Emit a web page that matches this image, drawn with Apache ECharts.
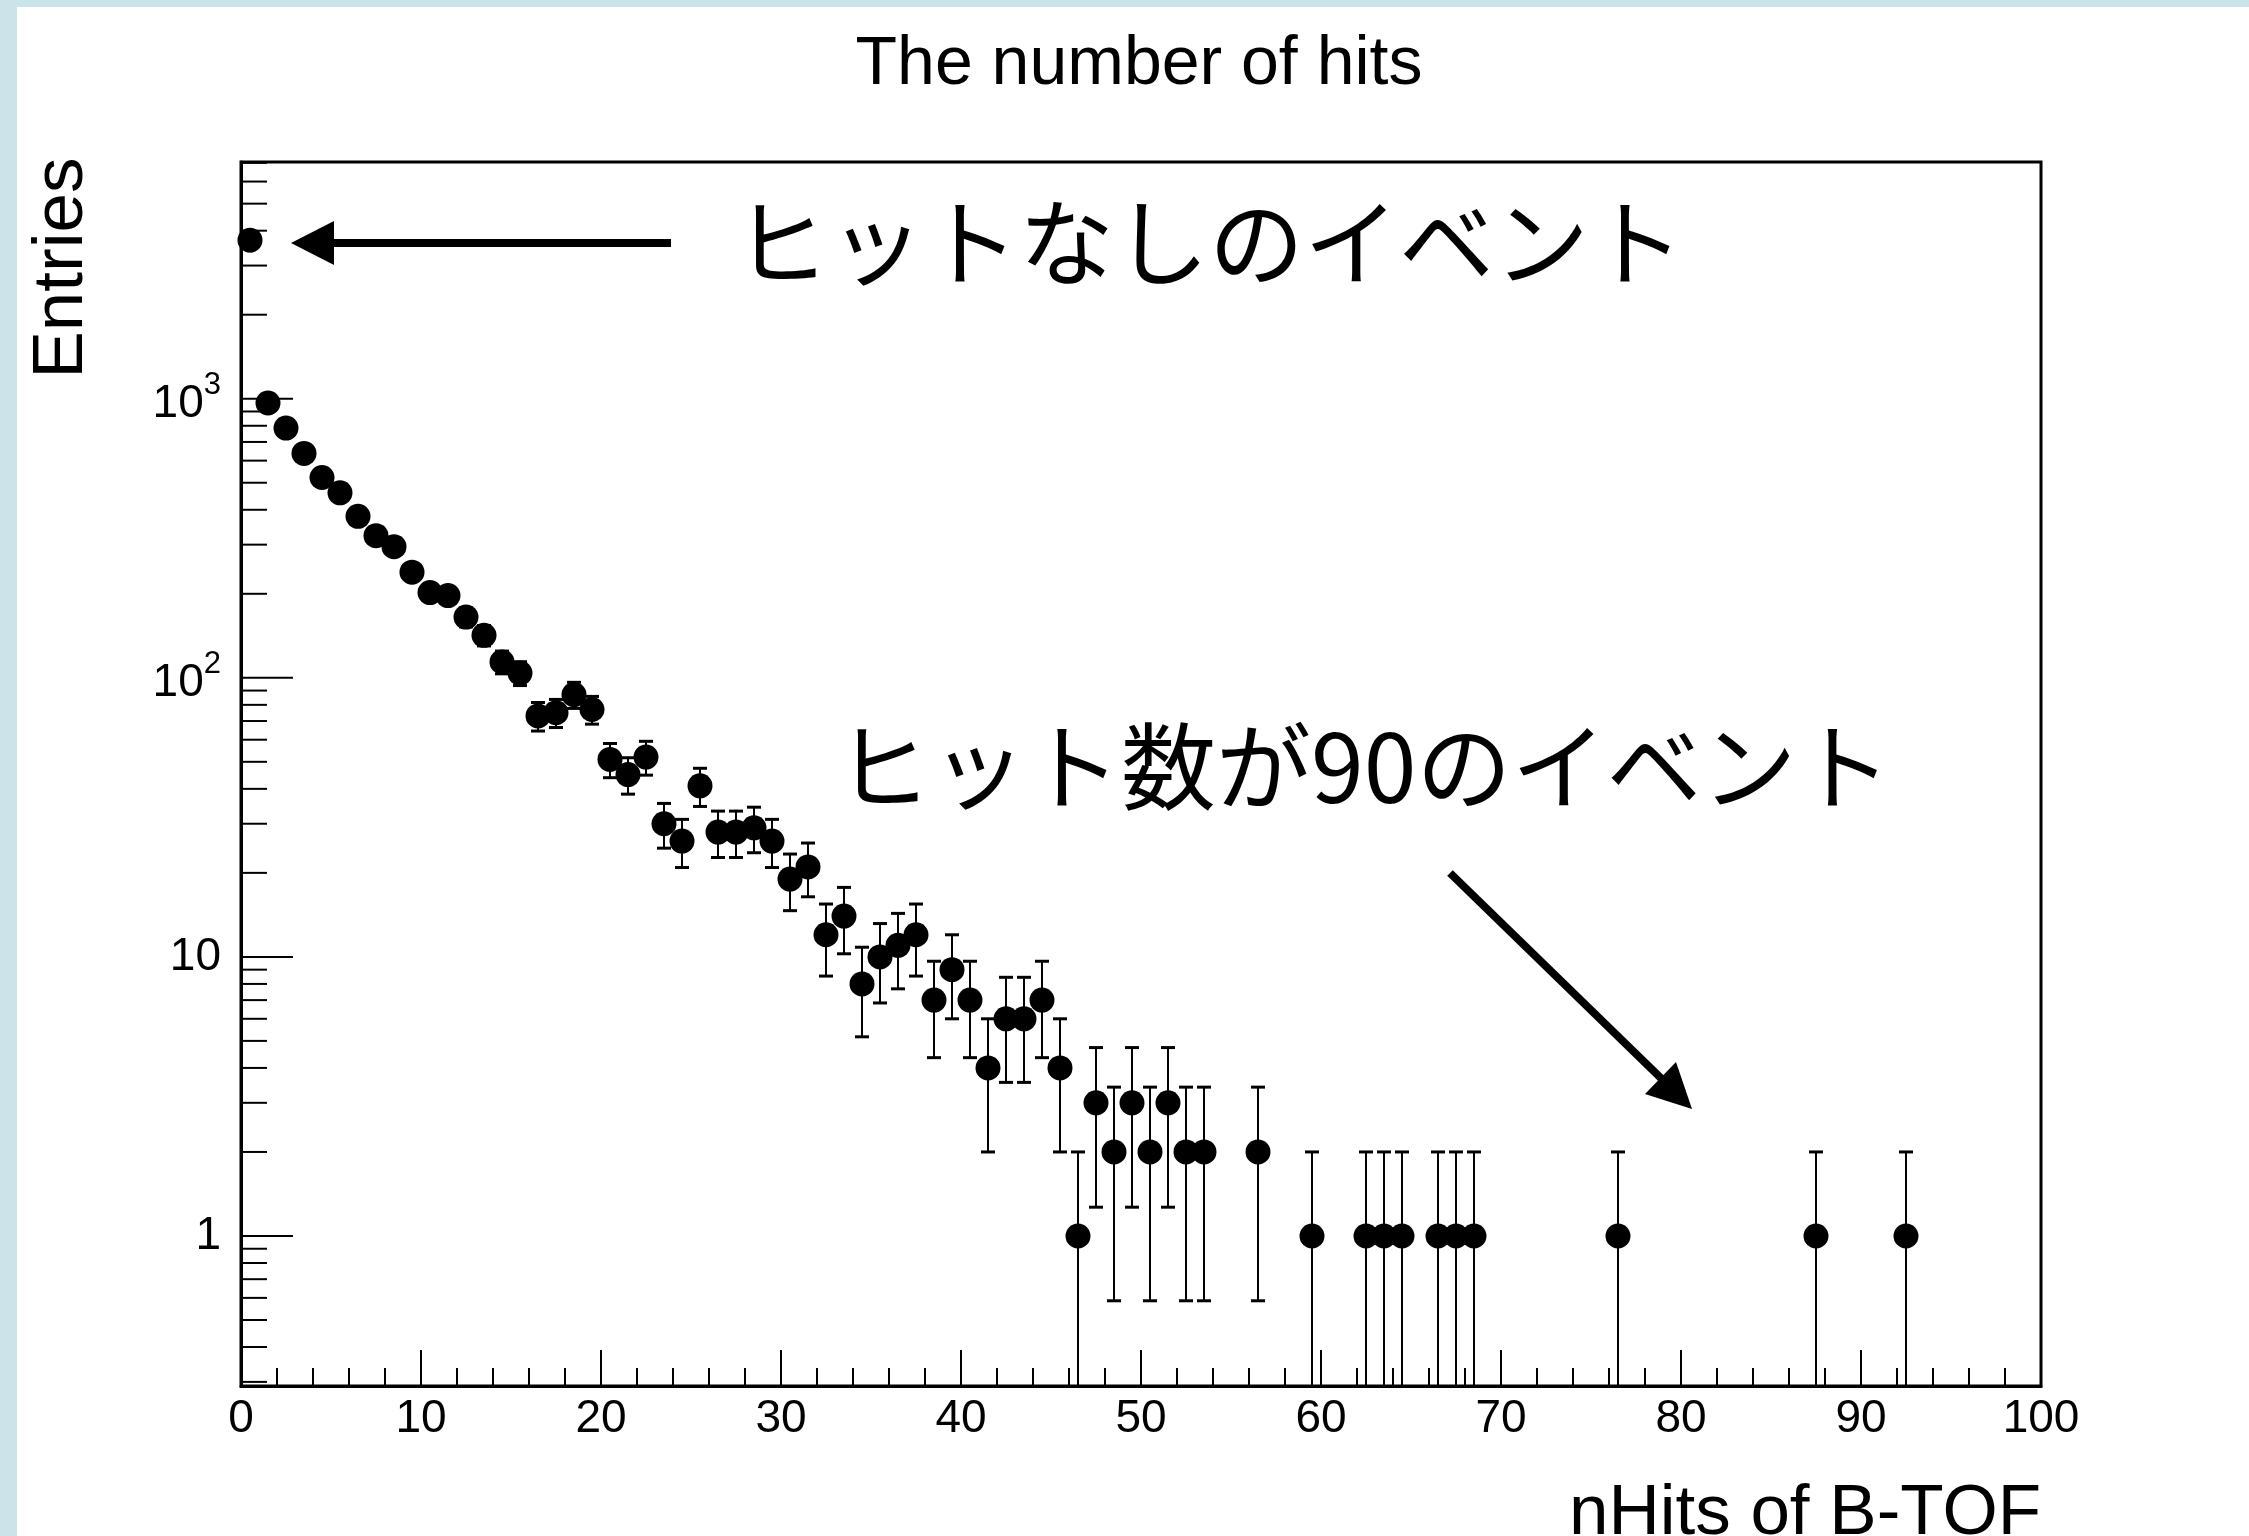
<!DOCTYPE html>
<html>
<head>
<meta charset="utf-8">
<title>The number of hits</title>
<script src="https://cdn.jsdelivr.net/npm/echarts@6/dist/echarts.min.js"></script>
<style>
  html, body { margin: 0; padding: 0; background: #ffffff; }
  #chart { width: 2249px; height: 1536px; }
</style>
</head>
<body>
<div id="chart"></div>
<script>
// Histogram of B-TOF hit multiplicity: bin centres (width 1) and entries per bin.
const binCenters = [
  0.5, 1.5, 2.5, 3.5, 4.5, 5.5, 6.5, 7.5, 8.5, 9.5,
  10.5, 11.5, 12.5, 13.5, 14.5, 15.5, 16.5, 17.5, 18.5, 19.5,
  20.5, 21.5, 22.5, 23.5, 24.5, 25.5, 26.5, 27.5, 28.5, 29.5,
  30.5, 31.5, 32.5, 33.5, 34.5, 35.5, 36.5, 37.5, 38.5, 39.5,
  40.5, 41.5, 42.5, 43.5, 44.5, 45.5, 46.5, 47.5, 48.5, 49.5,
  50.5, 51.5, 52.5, 53.5, 56.5, 59.5, 62.5, 63.5, 64.5, 66.5,
  67.5, 68.5, 76.5, 87.5, 92.5
];
const entries = [
  3700, 965, 785, 637, 522, 460, 379, 323, 295, 239,
  202, 197, 165, 142, 114, 104, 73, 75, 87, 77,
  51, 45, 52, 30, 26, 41, 28, 28, 29, 26,
  19, 21, 12, 14, 8, 10, 11, 12, 7, 9,
  7, 4, 6, 6, 7, 4, 1, 3, 2, 3,
  2, 3, 2, 2, 2, 1, 1, 1, 1, 1,
  1, 1, 1, 1, 1
];

// Axis ranges and tick values
const xRange = [0, 100];
const yRange = [0.29, 7050];
const yMajorTicks = [1, 10, 100, 1000];
const yMinorTicks = [
  0.3, 0.4, 0.5, 0.6, 0.7, 0.8, 0.9,
  2, 3, 4, 5, 6, 7, 8, 9,
  20, 30, 40, 50, 60, 70, 80, 90,
  200, 300, 400, 500, 600, 700, 800, 900,
  2000, 3000, 4000, 5000, 6000, 7000
];
// decade exponent -> [mantissa text, superscript text]
const yTickLabels = { 0: ['1', ''], 1: ['10', ''], 2: ['10', '2'], 3: ['10', '3'] };

// Annotation texts
const titleText = 'The number of hits';
const xTitle = 'nHits of B-TOF';
const yTitle = 'Entries';
const noteEmpty = 'ヒットなしのイベント';
const noteNinety = 'ヒット数が90のイベント';

// Points with Poisson errors sqrt(N)
const points = binCenters.map((x, i) => [x, entries[i]]);
const errorBars = binCenters.map((x, i) => {
  const n = entries[i];
  const e = Math.sqrt(n);
  return [x, n, n - e, n + e];
});
const yTickData = yMajorTicks.map(v => [0, v, 1]).concat(yMinorTicks.map(v => [0, v, 0]));

const latin = '"Liberation Sans", Arial, Helvetica, sans-serif';
const cjk = '"Noto Sans CJK JP", "Noto Sans CJK SC", sans-serif';

const chart = echarts.init(document.getElementById('chart'), null, { renderer: 'canvas' });

const arrowW = 8;

chart.setOption({
  animation: false,
  backgroundColor: '#ffffff',
  grid: {
    left: 241, top: 162, width: 1800, height: 1224,
    show: true, borderColor: '#000', borderWidth: 3, backgroundColor: 'transparent'
  },
  xAxis: {
    type: 'value',
    min: xRange[0], max: xRange[1], interval: 10,
    axisLine: { show: true, onZero: false, lineStyle: { color: '#000', width: 3 } },
    axisTick: { show: true, inside: true, length: 36, lineStyle: { color: '#000', width: 2 } },
    minorTick: { show: true, splitNumber: 5, length: 18, lineStyle: { color: '#000', width: 2 } },
    splitLine: { show: false },
    axisLabel: { color: '#000', fontSize: 46, fontFamily: latin, margin: 10 }
  },
  yAxis: {
    type: 'log', logBase: 10,
    min: yRange[0], max: yRange[1],
    axisLine: { show: true, lineStyle: { color: '#000', width: 3 } },
    axisTick: { show: false },
    splitLine: { show: false },
    axisLabel: {
      color: '#000', fontFamily: latin, margin: 20,
      showMinLabel: false, showMaxLabel: false,
      formatter: function (v) {
        const p = Math.log10(v);
        const r = Math.round(p);
        if (Math.abs(p - r) > 1e-6 || yTickLabels[r] === undefined) return '';
        const t = yTickLabels[r];
        return t[1] ? '{b|' + t[0] + '}{s|' + t[1] + '}' : '{m|' + t[0] + '}';
      },
      rich: {
        m: { fontSize: 46, fontFamily: latin, color: '#000' },
        b: { fontSize: 46, fontFamily: latin, color: '#000', lineHeight: 58, verticalAlign: 'bottom' },
        s: { fontSize: 31, fontFamily: latin, color: '#000', lineHeight: 31, verticalAlign: 'top' }
      }
    }
  },
  series: [
    {
      // left-axis ticks (decades long, 2..9 short)
      type: 'custom',
      silent: true,
      z: 3,
      clip: false,
      data: yTickData,
      renderItem: function (params, api) {
        const p = api.coord([xRange[0], api.value(1)]);
        const len = api.value(2) ? 52 : 26;
        return {
          type: 'line',
          shape: { x1: p[0], y1: p[1], x2: p[0] + len, y2: p[1] },
          style: { stroke: '#000', lineWidth: 2 }
        };
      }
    },
    {
      // error bars with end caps
      type: 'custom',
      silent: true,
      z: 4,
      clip: true,
      data: errorBars,
      renderItem: function (params, api) {
        const x = api.value(0);
        const lo = api.value(2);
        const hi = api.value(3);
        const top = api.coord([x, hi]);
        const bot = api.coord([x, lo > yRange[0] ? lo : yRange[0]]);
        const cap = 7;
        const kids = [
          { type: 'line', shape: { x1: top[0], y1: top[1], x2: bot[0], y2: bot[1] },
            style: { stroke: '#000', lineWidth: 2 } },
          { type: 'line', shape: { x1: top[0] - cap, y1: top[1], x2: top[0] + cap, y2: top[1] },
            style: { stroke: '#000', lineWidth: 3 } }
        ];
        if (lo > yRange[0]) {
          kids.push({ type: 'line', shape: { x1: bot[0] - cap, y1: bot[1], x2: bot[0] + cap, y2: bot[1] },
            style: { stroke: '#000', lineWidth: 3 } });
        }
        return { type: 'group', children: kids };
      }
    },
    {
      type: 'scatter',
      z: 5,
      symbol: 'circle',
      symbolSize: 25,
      itemStyle: { color: '#000', opacity: 1 },
      emphasis: { disabled: true },
      data: points
    }
  ],
  graphic: [
    { type: 'rect', shape: { x: 0, y: 0, width: 17, height: 1536 }, style: { fill: '#cde3ea' }, z: 100 },
    { type: 'rect', shape: { x: 0, y: 0, width: 2249, height: 7 }, style: { fill: '#cde3ea' }, z: 100 },
    { type: 'text', x: 1139, y: 65, z: 100,
      style: { text: titleText, font: '68px ' + latin, fill: '#000', textAlign: 'center', textVerticalAlign: 'middle' } },
    { type: 'text', x: 62, y: 268, rotation: Math.PI / 2, z: 100,
      style: { text: yTitle, font: '71px ' + latin, fill: '#000', textAlign: 'center', textVerticalAlign: 'middle' } },
    { type: 'text', x: 2041, y: 1514, z: 100,
      style: { text: xTitle, font: '71px ' + latin, fill: '#000', textAlign: 'right', textVerticalAlign: 'middle' } },
    { type: 'text', x: 734, y: 243, z: 100,
      style: { text: noteEmpty, font: '95px ' + cjk, fill: '#000', textAlign: 'left', textVerticalAlign: 'middle' } },
    { type: 'text', x: 836, y: 767, z: 100,
      style: { text: noteNinety, font: '95px ' + cjk, fill: '#000', textAlign: 'left', textVerticalAlign: 'middle' } },
    { type: 'line', z: 100, shape: { x1: 671, y1: 243, x2: 325, y2: 243 },
      style: { stroke: '#000', lineWidth: arrowW } },
    { type: 'polygon', z: 100, shape: { points: [[291, 243], [334, 221], [334, 265]] },
      style: { fill: '#000' } },
    { type: 'line', z: 100, shape: { x1: 1450, y1: 873, x2: 1667, y2: 1084 },
      style: { stroke: '#000', lineWidth: arrowW } },
    { type: 'polygon', z: 100, shape: { points: [[1692, 1109], [1645, 1094], [1676, 1062]] },
      style: { fill: '#000' } }
  ]
});
</script>
</body>
</html>
